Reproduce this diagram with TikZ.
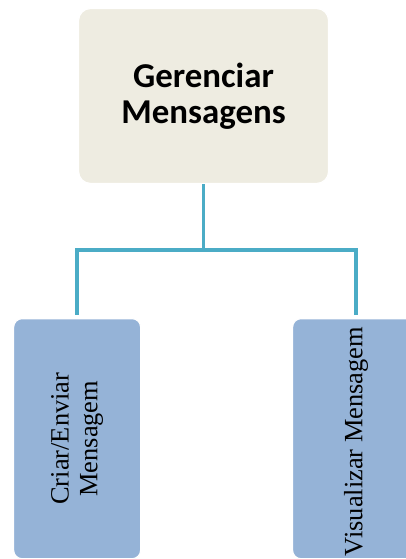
\documentclass[tikz,border=0pt]{standalone}
\usepackage{fontspec}
\setmainfont{Liberation Serif}
\newfontfamily\calibri{Carlito}
\usepackage{xcolor}
\usetikzlibrary{shapes,calc,positioning}

\definecolor{boxtop}{HTML}{EEECE1}
\definecolor{boxsub}{HTML}{95B3D7}
\definecolor{wire}{HTML}{4BACC6}

\begin{document}
\begin{tikzpicture}[
  topbox/.style={draw=white, line width=1.2pt, fill=boxtop, rounded corners=0.42cm},
  subbox/.style={draw=white, line width=1.2pt, fill=boxsub, rounded corners=0.3cm},
  subtext/.style={rotate=90, align=center, font=\fontsize{26.5}{29}\selectfont},
  wireline/.style={draw=wire, line width=3.3pt}
]

\useasboundingbox (0,0) rectangle (14.32,-19.72);

\coordinate(O1) at (2.75,-0.28);
\node[below right=0cm of O1,topbox, minimum width=8.82cm,minimum height=6.17cm,align=center,font=\calibri\bfseries\fontsize{35}{36}\selectfont](main) {Gerenciar\\Mensagens};

\coordinate(O1) at (0.46,-11.22);
\node[below right=0cm of O1,subbox, minimum width=4.48cm,minimum height=8.47cm](left) {};
\node[subtext] (lefttext) at (left.center) {Criar/Enviar\\Mensagem};

\coordinate(O1) at (10.30,-11.22);
\node[below right=0cm of O1,subbox, minimum width=4.48cm,minimum height=8.47cm](right) {};
\node[subtext, xshift=-0.1cm] (righttext) at (right.center) {Visualizar Mensagem};

\coordinate(bus) at (7.16,-8.82);
\draw[wireline] (main.south) -- (main.south |- bus) -| ([yshift=0.1cm]left.north);
\draw[wireline] (main.south |- bus) -| ([yshift=0.1cm]right.north);
\end{tikzpicture}
\end{document}
